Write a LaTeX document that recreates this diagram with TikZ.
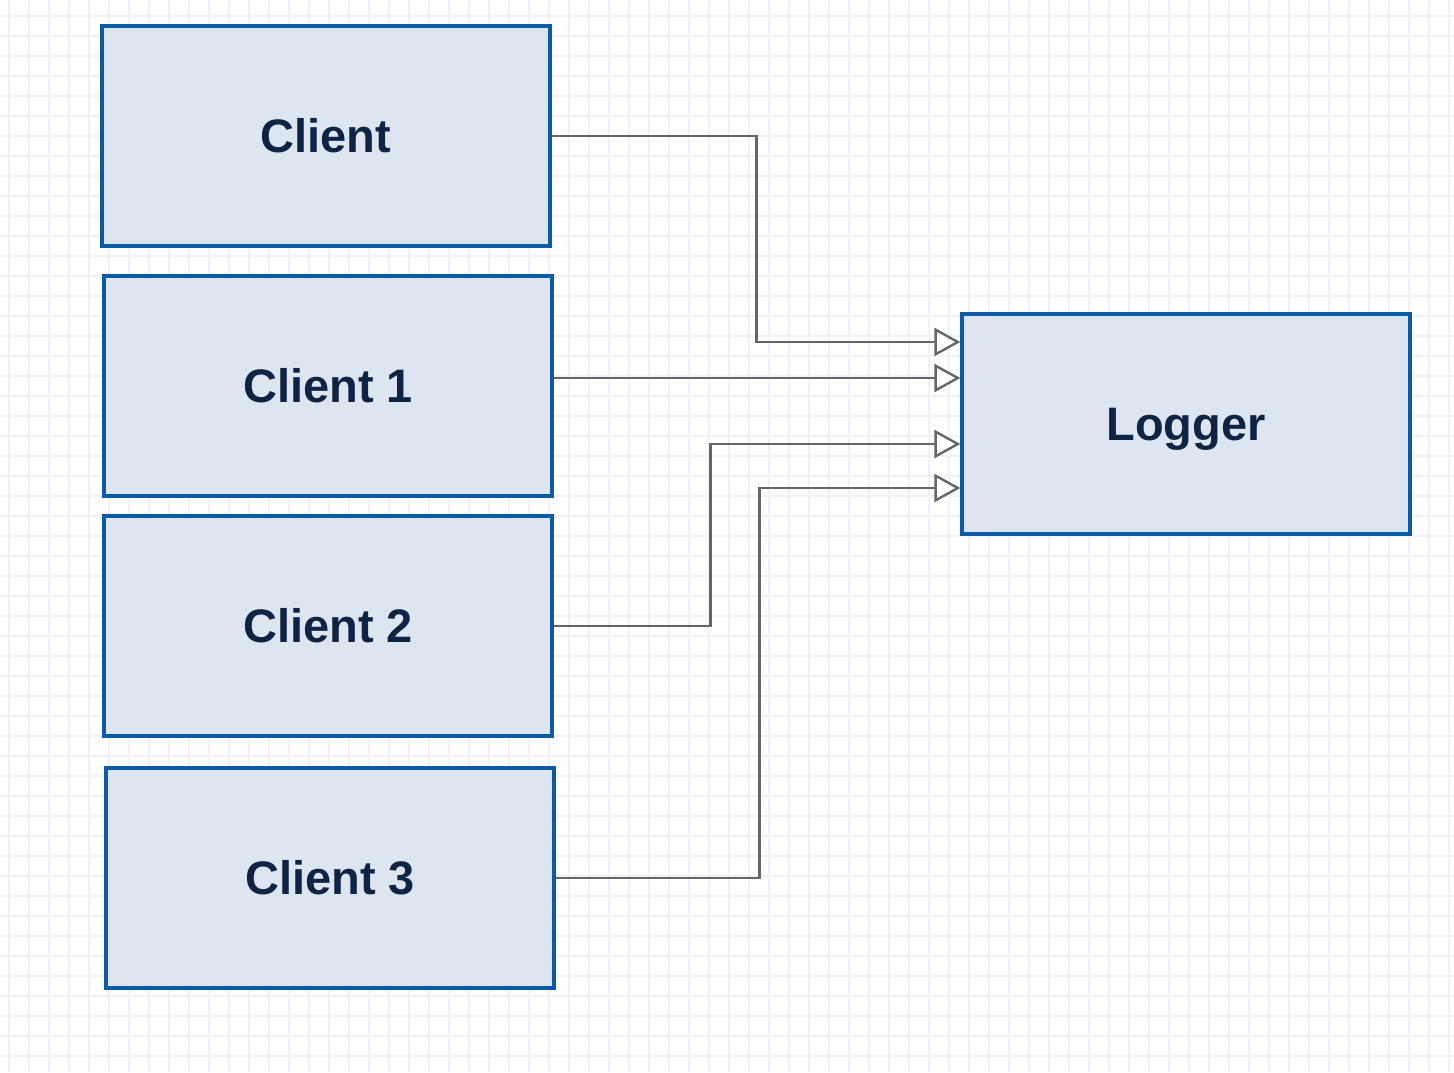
\documentclass[tikz,border=0pt]{standalone}
\usepackage{fontspec}
\setmainfont{Liberation Sans}
\usetikzlibrary{arrows.meta}
\definecolor{boxblue}{HTML}{0B5AA6}
\definecolor{boxfill}{HTML}{DDE5F1}
\definecolor{textnavy}{HTML}{0F2445}
\definecolor{gridcol}{HTML}{F1F1FC}
\definecolor{wire}{HTML}{666666}
\tikzset{
  box/.style={draw=boxblue,line width=1.6pt,fill=boxfill,minimum width=224pt,minimum height=110pt,
    inner sep=0pt,text height=16.8pt,text depth=0pt,text=textnavy,
    font=\fontsize{23.5}{28}\selectfont\bfseries},
  link/.style={draw=wire,line width=1.2pt,-{Triangle[open,fill=white,length=13pt,width=14pt]}}
}
\begin{document}
\begin{tikzpicture}[x=0.5pt,y=-0.5pt]
\useasboundingbox (0,0) rectangle (1454,1072);
\fill[white] (0,0) rectangle (1454,1072);
\foreach \gx in {9,29,...,1449} \draw[gridcol,line width=0.6pt] (\gx,0) -- (\gx,1072);
\foreach \gy in {16,36,...,1066} \draw[gridcol,line width=0.6pt] (0,\gy) -- (1454,\gy);

\node[box] (c0) at (326,136) {Client};
\node[box] (c1) at (328,386) {Client 1};
\node[box] (c2) at (328,626) {Client 2};
\node[box] (c3) at (330,878) {Client 3};
\node[box] (lg) at (1186,424) {Logger};

\draw[link] (c0.east) -- ++(205,0) |- ([yshift=41pt]lg.west);
\draw[link] (c1.east |- 0,378) -- ([yshift=23pt]lg.west);
\draw[link] (c2.east) -- ++(157,0) |- ([yshift=-10pt]lg.west);
\draw[link] (c3.east) -- ++(204,0) |- ([yshift=-32pt]lg.west);
\end{tikzpicture}
\end{document}
